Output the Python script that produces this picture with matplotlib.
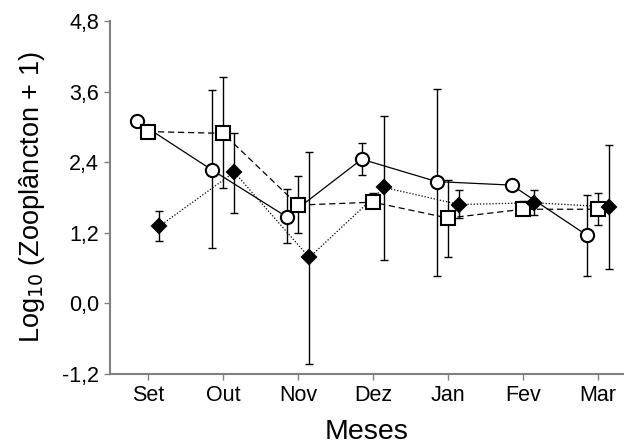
import numpy as np
import matplotlib
matplotlib.use("Agg")
import matplotlib.pyplot as plt

plt.rcParams['font.family'] = ['Liberation Sans', 'DejaVu Sans']

# meses de coleta
meses = ['Set', 'Out', 'Nov', 'Dez', 'Jan', 'Fev', 'Mar']

# serie 1 (circulos, linha continua)
circ_media = [3.10, 2.27, 1.47, 2.45, 2.07, 2.01, 1.16]
circ_sup = [np.nan, 3.62, 1.94, 2.73, 3.65, np.nan, 1.85]
circ_inf = [np.nan, 0.94, 1.03, 2.19, 0.47, np.nan, 0.47]

# serie 2 (quadrados, tracejada)
quad_media = [2.92, 2.89, 1.67, 1.72, 1.45, 1.60, 1.60]
quad_sup = [np.nan, 3.84, 2.17, 1.87, 2.10, 1.74, 1.87]
quad_inf = [np.nan, 1.96, 1.20, 1.62, 0.79, 1.52, 1.33]

# serie 3 (losangos, pontilhada)
los_media = [1.31, 2.23, 0.78, 1.97, 1.68, 1.71, 1.64]
los_sup = [1.57, 2.90, 2.58, 3.19, 1.93, 1.93, 2.70]
los_inf = [1.06, 1.54, -1.03, 0.74, 1.45, 1.51, 0.58]

x = np.arange(len(meses))

fig = plt.figure(figsize=(6.24, 4.48), dpi=100)
ax = fig.add_axes([0.1763, 0.1652, 0.8237, 0.788])


def serie(dx, media, sup, inf, ls, marker, ms, face, dashes=None):
    media = np.array(media)
    yerr = np.array([media - np.array(inf), np.array(sup) - media])
    yerr = np.nan_to_num(yerr)
    ax.errorbar(x + dx, media, yerr=yerr, fmt='none', ecolor='black',
                elinewidth=1, capsize=3, capthick=1, zorder=2)
    linha, = ax.plot(x + dx, media, color='black', lw=0.9, ls=ls, zorder=3)
    if dashes is not None:
        linha.set_dashes(dashes)
    ax.plot(x + dx, media, ls='none', marker=marker, ms=ms,
            markerfacecolor=face, markeredgecolor='black', mew=1.5, zorder=4)


serie(-0.15, circ_media, circ_sup, circ_inf, '-', 'o', 9.5, 'white')
serie(0.0, quad_media, quad_sup, quad_inf, '--', 's', 10, 'white', dashes=(5, 3))
serie(0.15, los_media, los_sup, los_inf, ':', 'D', 7.5, 'black', dashes=(1, 1.5))

ax.set_xlim(-0.507, 6.347)
ax.set_ylim(-1.2, 4.8)
ax.set_yticks([-1.2, 0.0, 1.2, 2.4, 3.6, 4.8])
ax.set_yticklabels(['-1,2', '0,0', '1,2', '2,4', '3,6', '4,8'])
ax.set_xticks(x)
ax.set_xticklabels(meses)

for s in ['top', 'right']:
    ax.spines[s].set_visible(False)
for s in ['left', 'bottom']:
    ax.spines[s].set_color('#808080')
    ax.spines[s].set_linewidth(1.5)

ax.tick_params(axis='both', direction='out', length=4, width=1,
               color='#808080', labelsize=15.5, pad=4)

ax.set_xlabel('Meses', fontsize=20.5, labelpad=9)
ax.set_ylabel('Log$_{10}$ (Zooplâncton + 1)', fontsize=19.5, labelpad=11)

fig.savefig('out.png', dpi=100)
